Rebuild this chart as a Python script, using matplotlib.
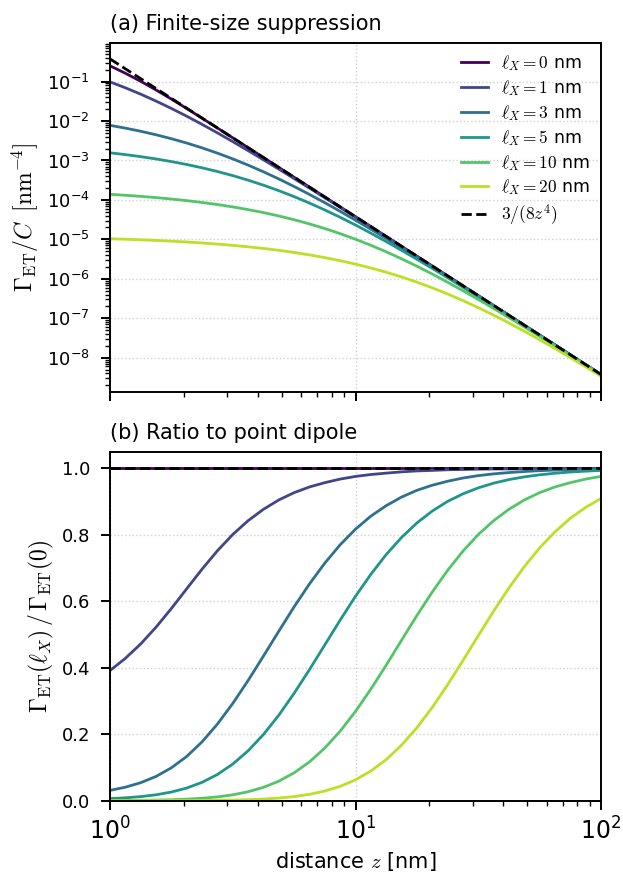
import numpy as np
import matplotlib
matplotlib.use("Agg")
import matplotlib.pyplot as plt
from matplotlib.ticker import LogLocator

plt.rcParams["font.family"] = ["DejaVu Sans"]
plt.rcParams["mathtext.fontset"] = "cm"

# donor-acceptor distance [nm]
z = np.array([1.0, 1.155, 1.334, 1.54, 1.778, 2.054, 2.371, 2.738, 3.162, 3.652, 4.217,
              4.87, 5.623, 6.494, 7.499, 8.66, 10.0, 11.55, 13.34, 15.4, 17.78, 20.54,
              23.71, 27.38, 31.62, 36.52, 42.17, 48.7, 56.23, 64.94, 74.99, 86.6, 100.0])

# exciton sizes [nm]
ells = [0, 1, 3, 5, 10, 20]

# transfer rate Gamma_ET / C [nm^-4] for each exciton size
rate_l0 = [0.2504, 0.1624, 0.1015, 0.06131, 0.03602, 0.02074, 0.01179, 0.006658, 0.003749,
           0.002109, 0.001186, 0.0006669, 0.000375, 0.0002109, 0.0001186, 6.669e-05, 3.75e-05,
           2.109e-05, 1.186e-05, 6.669e-06, 3.75e-06, 2.109e-06, 1.186e-06, 6.669e-07, 3.75e-07,
           2.109e-07, 1.186e-07, 6.669e-08, 3.75e-08, 2.109e-08, 1.186e-08, 6.669e-09, 3.75e-09]
rate_l1 = [0.09809, 0.06957, 0.04789, 0.03202, 0.02083, 0.01323, 0.008215, 0.005007, 0.003003,
           0.001777, 0.00104, 0.0006035, 0.0003476, 0.0001991, 0.0001135, 6.454e-05, 3.659e-05,
           2.07e-05, 1.169e-05, 6.599e-06, 3.721e-06, 2.096e-06, 1.181e-06, 6.646e-07, 3.741e-07,
           2.105e-07, 1.184e-07, 6.662e-08, 3.747e-08, 2.108e-08, 1.185e-08, 6.666e-09, 3.749e-09]
rate_l3 = [0.007771, 0.006603, 0.005499, 0.004479, 0.003563, 0.002764, 0.002088, 0.001535,
           0.001097, 0.000763, 0.0005162, 0.0003402, 0.0002188, 0.0001376, 8.48e-05, 5.136e-05,
           3.064e-05, 1.806e-05, 1.053e-05, 6.093e-06, 3.502e-06, 2.002e-06, 1.14e-06, 6.475e-07,
           3.668e-07, 2.074e-07, 1.171e-07, 6.606e-08, 3.724e-08, 2.098e-08, 1.181e-08, 6.649e-09,
           3.742e-09]
rate_l5 = [0.001564, 0.001408, 0.00125, 0.001093, 0.0009382, 0.0007901, 0.0006516, 0.0005252,
           0.0004132, 0.0003168, 0.0002364, 0.0001716, 0.0001212, 8.32e-05, 5.562e-05, 3.625e-05,
           2.307e-05, 1.437e-05, 8.786e-06, 5.283e-06, 3.134e-06, 1.838e-06, 1.068e-06, 6.157e-07,
           3.53e-07, 2.015e-07, 1.146e-07, 6.498e-08, 3.677e-08, 2.078e-08, 1.173e-08, 6.613e-09,
           3.727e-09]
rate_l10 = [0.0001386, 0.0001311, 0.0001231, 0.0001145, 0.0001054, 9.597e-05, 8.621e-05,
            7.633e-05, 6.65e-05, 5.69e-05, 4.774e-05, 3.921e-05, 3.147e-05, 2.464e-05, 1.88e-05,
            1.396e-05, 1.008e-05, 7.082e-06, 4.839e-06, 3.22e-06, 2.089e-06, 1.324e-06, 8.218e-07,
            5.007e-07, 3.003e-07, 1.777e-07, 1.04e-07, 6.035e-08, 3.476e-08, 1.991e-08, 1.135e-08,
            6.454e-09, 3.659e-09]
rate_l20 = [1.038e-05, 1.009e-05, 9.768e-06, 9.409e-06, 9.013e-06, 8.579e-06, 8.107e-06,
            7.598e-06, 7.056e-06, 6.483e-06, 5.887e-06, 5.275e-06, 4.657e-06, 4.044e-06, 3.449e-06,
            2.883e-06, 2.358e-06, 1.884e-06, 1.468e-06, 1.115e-06, 8.237e-07, 5.919e-07, 4.136e-07,
            2.812e-07, 1.862e-07, 1.203e-07, 7.593e-08, 4.696e-08, 2.853e-08, 1.706e-08, 1.008e-08,
            5.887e-09, 3.41e-09]

rates = [np.array(r) for r in (rate_l0, rate_l1, rate_l3, rate_l5, rate_l10, rate_l20)]
point_dipole = 3 / (8 * z ** 4)

colors = plt.cm.viridis([0.0, 0.21, 0.37, 0.52, 0.73, 0.9])

fig = plt.figure(figsize=(6.23, 8.77), dpi=100)
ax1 = fig.add_axes([0.1766, 0.5530, 0.7881, 0.3979])
ax2 = fig.add_axes([0.1766, 0.0870, 0.7881, 0.3979])

for l, r, c in zip(ells, rates, colors):
    ax1.plot(z, r, color=c, lw=2.0, label=rf"$\ell_X = {l}$ nm")
    ax2.plot(z, r / rates[0], color=c, lw=2.0)
ax1.plot(z, point_dipole, "k--", lw=2.0, label=r"$3/(8z^4)$")
ax2.axhline(1.0, color="k", ls="--", lw=2.0)

ax1.set_xscale("log")
ax1.set_yscale("log")
ax2.set_xscale("log")
for ax in (ax1, ax2):
    ax.set_xlim(1, 100)
    ax.grid(True, which="major", ls=":", color="#d0d0d0", lw=1.0)
    for s in ax.spines.values():
        s.set_linewidth(1.4)
    ax.tick_params(which="major", length=6.5, width=1.4)
    ax.tick_params(which="minor", length=3.5, width=1.0)
    ax.tick_params(axis="y", labelsize=13, pad=8)
    ax.tick_params(axis="x", labelsize=17, pad=5.5)
ax1.yaxis.set_major_locator(LogLocator(base=10, numticks=20))
ax1.yaxis.set_minor_locator(LogLocator(base=10, subs=np.arange(2, 10), numticks=20))
ax1.tick_params(axis="x", labelbottom=False)
ax2.set_ylim(0, 1.05)
ax2.set_yticks([0, 0.2, 0.4, 0.6, 0.8, 1.0])

ax1.set_title("(a) Finite-size suppression", loc="left", fontsize=15, pad=9.5)
ax2.set_title("(b) Ratio to point dipole", loc="left", fontsize=15, pad=9.5)
ax1.set_ylabel(r"$\Gamma_{\rm ET}/C\;\;[\mathrm{nm}^{-4}]$", fontsize=17)
ax2.set_ylabel(r"$\Gamma_{\rm ET}(\ell_X)\,/\,\Gamma_{\rm ET}(0)$", fontsize=17)
ax2.set_xlabel("distance $z$ [nm]", fontsize=15)
ax1.legend(loc="upper right", frameon=False, fontsize=12.5, handlelength=1.55,
           handletextpad=0.75, labelspacing=0.28, borderaxespad=0.2)

fig.savefig("out.png", dpi=100)
